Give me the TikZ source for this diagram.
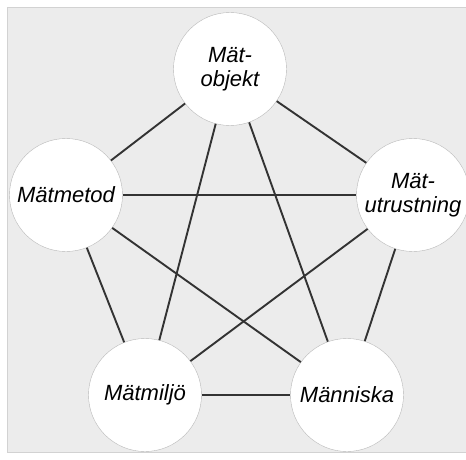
\documentclass[tikz,border=0pt]{standalone}
\usepackage{fontspec}
\setmainfont{Liberation Sans}
\tikzset{
  faktor/.style={circle, draw=gray!55, fill=white, minimum size=113pt, inner sep=0pt,
    align=center, font=\itshape\fontsize{22}{24}\selectfont},
  band/.style={draw=black!80, line width=1.9pt}
}
\begin{document}
\begin{tikzpicture}[x=1pt,y=-1pt]
\useasboundingbox (0,0) rectangle (466,460);
\clip (0,0) rectangle (466,460);
\fill [gray!15, draw=gray!35] (7,7) rectangle (470,452);

\node (objekt) [faktor] at (230,69) {Mät-\\objekt};
\node (metod) [faktor] at (66,195) {Mätmetod};
\node (utrustning) [faktor] at (413,195) {Mät-\\utrustning};
\node (miljo) [faktor] at (145,395) {Mätmiljö};
\node (manniska) [faktor] at (347,395) {Människa};

\draw [band] (objekt) -- (metod);
\draw [band] (objekt) -- (utrustning);
\draw [band] (objekt) -- (miljo);
\draw [band] (objekt) -- (manniska);
\draw [band] (metod) -- (utrustning);
\draw [band] (metod) -- (miljo);
\draw [band] (metod) -- (manniska);
\draw [band] (utrustning) -- (miljo);
\draw [band] (utrustning) -- (manniska);
\draw [band] (miljo) -- (manniska);
\end{tikzpicture}
\end{document}
